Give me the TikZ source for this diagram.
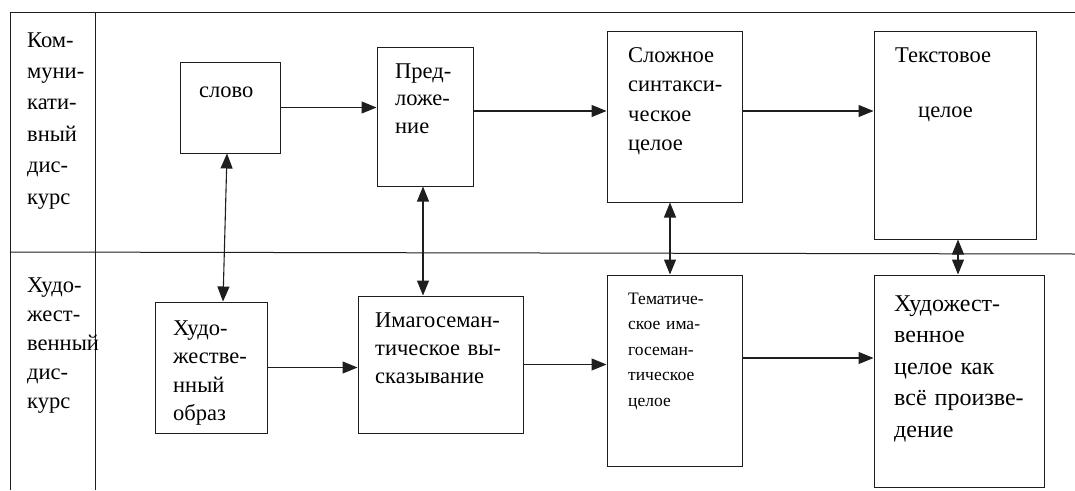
\documentclass[tikz,border=0pt]{standalone}
\usepackage{fontspec}
\setmainfont{Liberation Serif}[Ligatures=TeX]
\newfontfamily\schemefont{Liberation Serif}
\definecolor{lineblack}{RGB}{30,30,30}
\usetikzlibrary{arrows.meta,positioning,calc}

\begin{document}
\begin{tikzpicture}[x=1pt, y=-1pt,
    box/.style={draw=lineblack, line width=1pt, inner sep=0pt},
    txt/.style={anchor=base west, inner sep=0pt, align=left, text width=#1},
    txt/.default=150pt,
    link/.style={draw=lineblack, line width=1.1pt, -{Triangle[length=15pt,width=12pt]}},
    both/.style={draw=lineblack, line width=1.1pt,
                 {Triangle[length=15pt,width=12pt]}-{Triangle[length=15pt,width=12pt]}}]
    \useasboundingbox (0,0) rectangle (1075,490);

    % table frame
    \draw[lineblack, line width=1pt] (10,490) -- (10,12) -- (1075,12);
    \draw[lineblack, line width=1pt] (95,12) -- (95,490);
    \draw[lineblack, line width=1pt] (10,252) -- (1075,254);

    % row titles
    \node[txt=80pt, font=\schemefont\fontsize{22.5}{31.4}\selectfont] (komd) at (27,47)
      {Ком-\\муни-\\кати-\\вный\\дис-\\курс};
    \node[txt=80pt, font=\schemefont\fontsize{22.5}{29}\selectfont] (hudd) at (27,292)
      {Худо-\\жест-\\венный\\дис-\\курс};

    % upper row
    \node[box, minimum width=100pt, minimum height=91pt]  (slovo) at (230,107.5) {};
    \node[box, minimum width=96pt,  minimum height=139pt] (predl) at (425,116.5) {};
    \node[box, minimum width=135pt, minimum height=171pt] (sstc)  at (674.5,116.5) {};
    \node[box, minimum width=162pt, minimum height=208pt] (tekst) at (955,135) {};

    \node[txt=80pt, font=\schemefont\fontsize{22.5}{28}\selectfont] (slovot) at (199,97) {слово};
    \node[txt=80pt, font=\schemefont\fontsize{22.5}{27.5}\selectfont] (predlt) at (395,78)
      {Пред-\\ложе-\\ние};
    \node[txt=120pt, font=\schemefont\fontsize{22.5}{29.5}\selectfont] (sstct) at (628,62)
      {Сложное\\синтакси-\\ческое\\целое};
    \node[txt=140pt, font=\schemefont\fontsize{22.5}{27.5}\selectfont] (tekstt) at (895,62)
      {Текстовое\\[27.5pt]\hspace*{23pt}целое};

    % lower row
    \node[box, minimum width=112pt, minimum height=131pt] (obraz) at (211,367.5) {};
    \node[box, minimum width=165pt, minimum height=137pt] (imago) at (440.5,364.5) {};
    \node[box, minimum width=135pt, minimum height=191pt] (temat) at (674.5,370.5) {};
    \node[box, minimum width=170pt, minimum height=212pt] (celoe) at (959,381) {};

    \node[txt=90pt, font=\schemefont\fontsize{22.5}{28.5}\selectfont] (obrazt) at (173,335)
      {Худо-\\жестве-\\нный\\образ};
    \node[txt=150pt, font=\schemefont\fontsize{22.5}{28}\selectfont] (imagot) at (375,327)
      {Имагосеман-\\тическое вы-\\сказывание};
    \node[txt=120pt, font=\schemefont\fontsize{17.5}{25.5}\selectfont] (tematt) at (628,304)
      {Тематиче-\\ское има-\\госеман-\\тическое\\целое};
    \node[txt=150pt, font=\schemefont\fontsize{24}{31.5}\selectfont] (celoet) at (894,311)
      {Художест-\\венное\\целое как\\всё произве-\\дение};

    % horizontal links
    \draw[link] (slovo.east) -- (predl.west |- slovo.east);
    \coordinate (pc) at ([yshift=5.5pt]predl.east);
    \draw[link] (pc) -- (pc -| sstc.west);
    \coordinate (sc) at ([yshift=5.5pt]sstc.east);
    \draw[link] (sc) -- (sc -| tekst.west);
    \draw[link] (obraz.east) -- (imago.west |- obraz.east);
    \draw[link] (imago.east) -- (temat.west |- imago.east);
    \coordinate (tc) at ([yshift=12.5pt]temat.east);
    \draw[link] (tc) -- (tc -| celoe.west);

    % vertical links between the rows
    \draw[both] ([xshift=-3pt]slovo.south) -- ([xshift=12pt]obraz.north);
    \draw[both] ([xshift=-2pt]predl.south) -- ([xshift=-17.5pt]imago.north);
    \draw[both] ([xshift=-4.5pt]sstc.south) -- ([xshift=-4.5pt]temat.north);
    \draw[both] ([xshift=3pt]tekst.south) -- ([xshift=-1pt]celoe.north);
\end{tikzpicture}
\end{document}
